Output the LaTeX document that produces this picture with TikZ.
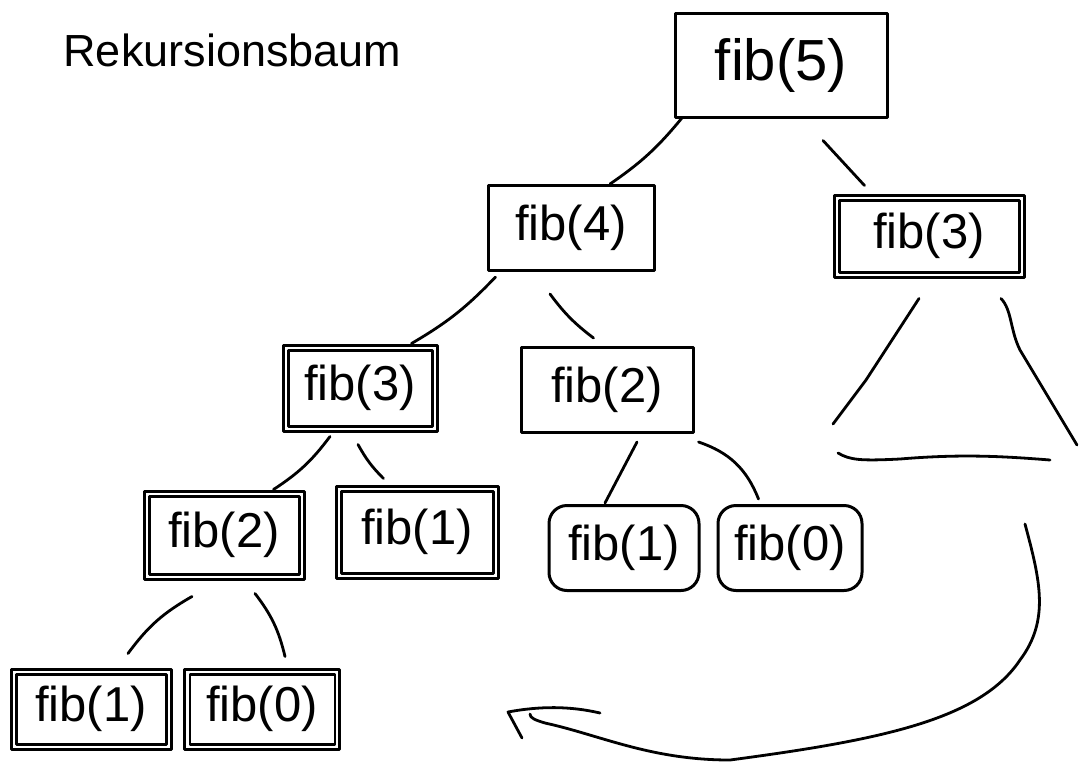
\documentclass[tikz,border=0pt]{standalone}
\usepackage{fontspec}
\setmainfont{Liberation Sans}
\usetikzlibrary{calc}
\begin{document}
\begin{tikzpicture}[x=1pt,y=-1pt, line width=3pt, line cap=round, line join=round,
  box/.style={draw, rectangle, inner sep=0pt, font=\fontsize{49}{52}\selectfont},
  rbox/.style={box, rounded corners=18pt},
  inner/.style={line width=2.2pt},
  edge/.style={line width=2.8pt}]
\useasboundingbox (0,0) rectangle (1079,761);

% title
\node[anchor=west, font=\fontsize{45}{50}\selectfont, inner sep=0pt] (title) at (62,50) {Rekursionsbaum};

% nodes
\node[box, minimum width=212, minimum height=104, font=\fontsize{58}{62}\selectfont] (f5) at (781,65) {fib(5)};
\node[box, minimum width=166, minimum height=85] (f4) at (571,228) {fib(4)};
\node[box, minimum width=190, minimum height=82] (f3r) at (929,236) {fib(3)};
\node[box, minimum width=154, minimum height=86] (f3l) at (360,388) {fib(3)};
\node[box, minimum width=172, minimum height=85] (f2a) at (607,390) {fib(2)};
\node[box, minimum width=160, minimum height=88] (f2b) at (224,535) {fib(2)};
\node[box, minimum width=162, minimum height=92] (f1a) at (417,532) {fib(1)};
\node[rbox, minimum width=150, minimum height=85] (f1b) at (624,548) {fib(1)};
\node[rbox, minimum width=144, minimum height=85] (f0a) at (790,548) {fib(0)};
\node[box, minimum width=160, minimum height=80] (f1c) at (91,709) {fib(1)};
\node[box, minimum width=155, minimum height=80] (f0b) at (262,709) {fib(0)};

% doubled strokes of some boxes
\foreach \n in {f3r,f3l,f2b,f1a,f1c,f0b}{
  \draw[inner] ($(\n.north west)+(7,7)$) rectangle ($(\n.south east)+(-6,-6)$);
}

% connectors
\draw[edge] ($(f5.south west)+(8,0)$) to[bend left=8] ($(f4.north)+(39,0)$);
\draw[edge] ($(f5.south)+(42,22)$) -- ($(f3r.north west)+(32,-8)$);
\draw[edge] ($(f4.south west)+(9,5)$) to[bend left=8] ($(f3l.north east)+(-27,0)$);
\draw[edge] ($(f4.south)+(-21,22)$) to[bend right=8] ($(f2a.north west)+(74,-8)$);
\draw[edge] ($(f3l.south)+(-30,4)$) to[bend left=10] ($(f2b.north east)+(-32,0)$);
\draw[edge] ($(f3l.south)+(-2,12)$) to[bend right=8] ($(f1a.north west)+(49,-6)$);
\draw[edge] ($(f2a.south)+(30,8)$) -- ($(f1b.north)+(-19,-1)$);
\draw[edge] ($(f2a.south east)+(4,8)$) to[bend left=25] ($(f0a.north west)+(42,-5)$);
\draw[edge] ($(f2b.south)+(-32,16)$) to[bend right=12] ($(f1c.north)+(37,-14)$);
\draw[edge] ($(f2b.south)+(31,13)$) to[bend left=12] ($(f0b.north)+(23,-11)$);

% subtree triangle below right fib(3)
\coordinate (tl) at ($(f3r.south)+(-10,20)$);
\coordinate (tr) at ($(f3r.south)+(72,20)$);
\draw[edge] (tl) -- (866,380) -- (833,424);
\draw[edge] (tr) .. controls (1012,310) and (1010,330) .. (1020,350) -- (1077,445);
\draw[edge] (838,453) .. controls (850,460) and (860,461) .. (900,459) .. controls (960,454) and (1000,456) .. (1050,460);

% big return curve with hook
\draw[edge] (1025,524) .. controls (1040,580) and (1050,620) .. (1020,660)
  .. controls (980,720) and (880,740) .. (730,760)
  .. controls (650,760) and (600,735) .. (545,723) .. controls (535,720) and (530,718) .. (530,714);
\draw[edge] (600,713) .. controls (570,706) and (540,706) .. (508,712) -- (522,738);
\end{tikzpicture}
\end{document}
